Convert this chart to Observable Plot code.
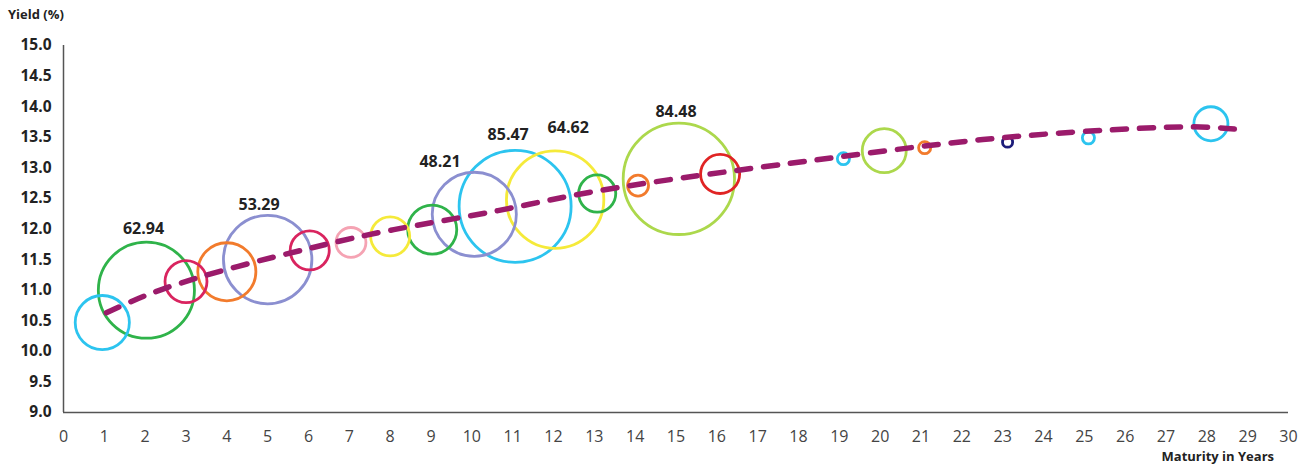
<!DOCTYPE html>
<html>
<head>
<meta charset="utf-8">
<script src="https://cdn.jsdelivr.net/npm/d3@7"></script>
<script src="https://cdn.jsdelivr.net/npm/@observablehq/plot@0.6"></script>
<style>
  html, body { margin: 0; padding: 0; background: #fff; }
  #wrap { position: relative; width: 1311px; height: 466px; font-family: "Open Sans", sans-serif; }
  #ytitle { position: absolute; left: 8px; top: 5px; font-size: 13px; font-weight: 700; color: #222; }
  #xtitle { position: absolute; right: 37px; top: 447px; font-size: 13px; font-weight: 700; color: #222; }
  svg { position: absolute; left: 0; top: 0; }
</style>
</head>
<body>
<div id="wrap">
  <div id="chart"></div>
  <div id="ytitle">Yield (%)</div>
  <div id="xtitle">Maturity in Years</div>
</div>
<script>
// Bubble data
const maturity = [0.95, 2.03, 3.0, 4.0, 5.0, 6.03, 7.04, 8.0, 9.03, 10.06, 11.06, 12.04, 13.07, 14.07, 15.07, 16.08, 19.1, 20.1, 21.09, 23.12, 25.1, 28.1];
const yieldPct = [10.47, 11.0, 11.14, 11.30, 11.5, 11.65, 11.78, 11.88, 11.99, 12.24, 12.37, 12.48, 12.58, 12.71, 12.82, 12.90, 13.15, 13.28, 13.33, 13.42, 13.49, 13.72];
const amount = [20, 62.94, 12, 23, 53.29, 10.4, 6.1, 10.4, 16.4, 48.21, 85.47, 64.62, 9.4, 3.0, 84.48, 10.4, 1.0, 13.2, 1.0, 0.7, 1.0, 7.9];
const bubbleColor = ["#2cc4ef", "#2fb34a", "#d9245f", "#f27b2c", "#8b8fd0", "#d9245f", "#f5a3b3", "#f5ea3a", "#2fb34a", "#8b8fd0", "#2cc4ef", "#f5ea3a", "#2fb34a", "#f27b2c", "#acd84c", "#e02424", "#2cc4ef", "#acd84c", "#f27b2c", "#1c1c7a", "#2cc4ef", "#2cc4ef"];

// Value labels (text, anchored in data units: maturity, yield)
const labelText = ["62.94", "53.29", "48.21", "85.47", "64.62", "84.48"];
const labelMaturity = [1.96, 4.79, 9.22, 10.89, 12.36, 15.0];
const labelYield = [12.01, 12.40, 13.09, 13.54, 13.66, 13.92];

// Trend line (dashed)
const trendX = [1.05, 2.4, 4.28, 6.19, 8.09, 10.64, 13.15, 16.4, 19.02, 21.64, 24.23, 26.85, 28.14, 28.9];
const trendY = [10.63, 11.01, 11.39, 11.71, 11.99, 12.30, 12.63, 12.95, 13.18, 13.40, 13.56, 13.66, 13.66, 13.62];

// Ticks
const xTicks = d3.range(0, 31);
const yTicks = d3.range(9, 15.01, 0.5);

const bubbles = maturity.map((m, i) => ({m, y: yieldPct[i], v: amount[i], c: bubbleColor[i]}));
const trend = trendX.map((x, i) => ({x, y: trendY[i]}));
const labels = labelText.map((t, i) => ({t, x: labelMaturity[i], y: labelYield[i]}));

const rMax = 56;
const rDomainMax = d3.max(amount);

const chart = Plot.plot({
  width: 1311,
  height: 466,
  marginLeft: 63,
  marginRight: 23,
  marginTop: 45,
  marginBottom: 54,
  style: {fontFamily: "Open Sans, sans-serif", background: "transparent", overflow: "visible"},
  x: {domain: [0, 30], label: null},
  y: {domain: [9, 15], label: null},
  r: {type: "sqrt", domain: [0, rDomainMax], range: [0, rMax]},
  color: {type: "identity"},
  marks: [
    Plot.axisX({ticks: xTicks, tickSize: 0, tickPadding: 18, fontSize: 16, fill: "#444", label: null}),
    Plot.axisY({ticks: yTicks, tickSize: 0, tickPadding: 12, tickFormat: d3.format(".1f"), fontSize: 15.5, fontWeight: 700, fill: "#222", label: null}),
    Plot.ruleX([0], {stroke: "#555", strokeWidth: 1.5}),
    Plot.ruleY([9], {stroke: "#555", strokeWidth: 1.5}),
    Plot.dot(bubbles, {x: "m", y: "y", r: "v", stroke: "c", fill: "none", strokeWidth: 2.8}),
    Plot.line(trend, {x: "x", y: "y", curve: "natural", stroke: "#9b1b6b", strokeWidth: 5.5, strokeDasharray: "14 13"}),
    Plot.text(labels, {x: "x", y: "y", text: "t", fontSize: 16, fontWeight: 700, fill: "#222"})
  ]
});
document.getElementById("chart").appendChild(chart);
</script>
</body>
</html>
